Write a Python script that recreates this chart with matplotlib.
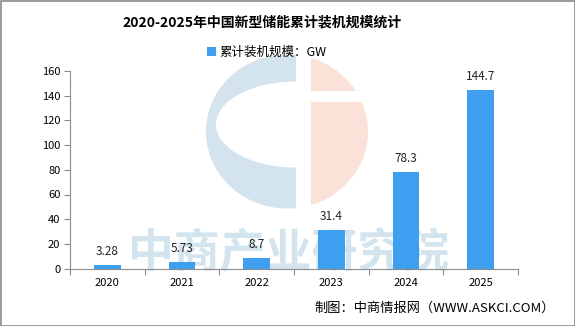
import numpy as np
import matplotlib
matplotlib.use('Agg')
import matplotlib.pyplot as plt
from matplotlib.patches import Polygon, Rectangle

plt.rcParams['font.family'] = ['Noto Sans CJK SC', 'DejaVu Sans']

# data
years = ['2020', '2021', '2022', '2023', '2024', '2025']
capacity = [3.28, 5.73, 8.7, 31.4, 78.3, 144.7]
value_labels = ['3.28', '5.73', '8.7', '31.4', '78.3', '144.7']
y_ticks = [0, 20, 40, 60, 80, 100, 120, 140, 160]

title = '2020-2025年中国新型储能累计装机规模统计'
legend_label = '累计装机规模：GW'
source = '制图：中商情报网（WWW.ASKCI.COM）'
watermark = '中商产业研究院'

bar_color = '#3e9ff1'
axis_color = '#8c8c8c'
wm_blue = '#d3e4ee'
wm_orange = '#fbe2d8'

W, H = 575, 326
fig = plt.figure(figsize=(W / 100, H / 100), dpi=100)

# background layer in pixel coordinates (y down) for watermark and border
bg = fig.add_axes([0, 0, 1, 1], zorder=0)
bg.set_xlim(0, W)
bg.set_ylim(H, 0)
bg.axis('off')

cx, cy, rx, ry = 287, 131.5, 81, 77
# blue "C" part
t0 = np.arccos(9 / rx)
t = np.linspace(t0, 2 * np.pi - t0, 200)
outer = np.column_stack([cx + rx * np.cos(t), cy + ry * np.sin(t)])
s = np.linspace(1.5 * np.pi, 0.5 * np.pi, 200)
inner = np.column_stack([296 + 80 * np.cos(s), 124.5 + 43 * np.sin(s)])
bg.add_patch(Polygon(np.vstack([outer, inner]), closed=True, fc=wm_blue, ec='none'))
# orange part
t1 = np.arccos(24 / rx)
t = np.linspace(-t1, t1, 200)
right = np.column_stack([cx + rx * np.cos(t), cy + ry * np.sin(t)])
bg.add_patch(Polygon(right, closed=True, fc=wm_orange, ec='none'))
bg.add_patch(Rectangle((311, 91), 70, 11, fc='white', ec='none'))

bg.text(289, 254, watermark, fontsize=33, fontweight='bold', color=wm_blue,
        ha='center', va='center')
bg.add_patch(Rectangle((0.5, 0.5), W - 1, H - 1, fc='none', ec='#8a8a8a', lw=1.2))

# main chart
ax = fig.add_axes([70 / W, (H - 268.6) / H, 448 / W, 197.6 / H], zorder=1)
ax.patch.set_alpha(0)
x = np.arange(len(years))
bars = ax.bar(x, capacity, width=0.36, color=bar_color, label=legend_label, zorder=2)
for xi, v, lab in zip(x, capacity, value_labels):
    ax.annotate(lab, (xi, v), xytext=(0, 5), textcoords='offset points',
                ha='center', va='bottom', fontsize=8.5, color='#222222')

ax.set_xlim(-0.5, len(years) - 0.5)
ax.set_ylim(0, 160)
ax.set_yticks(y_ticks)
ax.set_xticks(np.arange(len(years) + 1) - 0.5)
ax.set_xticklabels([])
ax.set_xticks(x, minor=True)
ax.set_xticklabels(years, minor=True)
ax.tick_params(axis='x', which='major', length=4, color=axis_color)
ax.tick_params(axis='x', which='minor', length=0, pad=7, labelsize=8)
ax.tick_params(axis='y', length=4, color=axis_color, labelsize=8, pad=3)
for side in ['top', 'right']:
    ax.spines[side].set_visible(False)
for side in ['left', 'bottom']:
    ax.spines[side].set_color(axis_color)

fig.text(262 / W, 1 - 22 / H, title, ha='center', va='center',
         fontsize=10, fontweight='bold')
fig.legend(loc='center', bbox_to_anchor=(267 / W, 1 - 52 / H), frameon=False,
           fontsize=9, handlelength=0.7, handleheight=0.7, handletextpad=0.3)
fig.text(555 / W, 1 - 308 / H, source, ha='right', va='center', fontsize=9.5)

fig.savefig('out.png', dpi=100)
